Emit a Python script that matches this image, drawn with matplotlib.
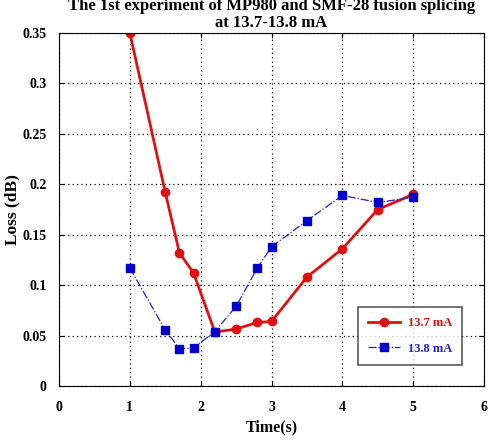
import matplotlib.pyplot as plt
import numpy as np

plt.rcParams['font.family'] = 'Liberation Serif'
plt.rcParams['font.weight'] = 'bold'

t_red = [1.0, 1.5, 1.7, 1.9, 2.2, 2.5, 2.8, 3.0, 3.5, 4.0, 4.5, 5.0]
loss_137 = [0.35, 0.192, 0.132, 0.112, 0.0535, 0.0565, 0.063, 0.064, 0.108, 0.136, 0.175, 0.19]
t_blue = [1.0, 1.5, 1.7, 1.9, 2.2, 2.5, 2.8, 3.0, 3.5, 4.0, 4.5, 5.0]
loss_138 = [0.117, 0.0555, 0.037, 0.0377, 0.054, 0.079, 0.117, 0.138, 0.164, 0.189, 0.182, 0.187]

fig = plt.figure(figsize=(4.89, 4.4), dpi=100)
ax = fig.add_axes([0.1207, 0.1227, 0.8691, 0.8023])

ax.plot(t_red, loss_137, color='#e01010', lw=2, marker='o', ms=6, label='13.7 mA')
ax.plot(t_blue, loss_138, color='#2020d0', lw=0.9, ls='-.', marker='s', ms=6,
        mfc='#0000cc', mec='#0000cc', label='13.8 mA')

ax.set_xlim(0, 6)
ax.set_ylim(0, 0.35)
ax.set_xticks(range(0, 7))
ax.set_yticks([0, 0.05, 0.1, 0.15, 0.2, 0.25, 0.3, 0.35])
ax.set_yticklabels(['0', '0.05', '0.1', '0.15', '0.2', '0.25', '0.3', '0.35'])
ax.tick_params(direction='in', labelsize=10, top=True, right=True)
ax.tick_params(axis='x', pad=11)
ax.tick_params(axis='y', pad=9)
ax.grid(True, ls=(0, (1, 2.5)), color='black', lw=0.9)
ax.set_xlabel('Time(s)', fontsize=11.5, fontweight='bold', labelpad=4)
ax.set_ylabel('Loss (dB)', fontsize=12.5, fontweight='bold')
ax.yaxis.set_label_coords(-0.09, 0.5)
ax.set_title('The 1st experiment of MP980 and SMF-28 fusion splicing\nat 13.7-13.8 mA',
             fontsize=12, fontweight='bold', pad=4, linespacing=1.1)

leg = ax.legend(loc='lower right', bbox_to_anchor=(0.948, 0.06), borderaxespad=0,
                fancybox=False, edgecolor='#333333', fontsize=9, handlelength=2.6,
                borderpad=0.8, labelspacing=1.1, handletextpad=0.6)
leg.get_frame().set_linewidth(1.2)
for txt, c in zip(leg.get_texts(), ['#e01010', '#2020d0']):
    txt.set_color(c)

fig.savefig('out.png', dpi=100)
